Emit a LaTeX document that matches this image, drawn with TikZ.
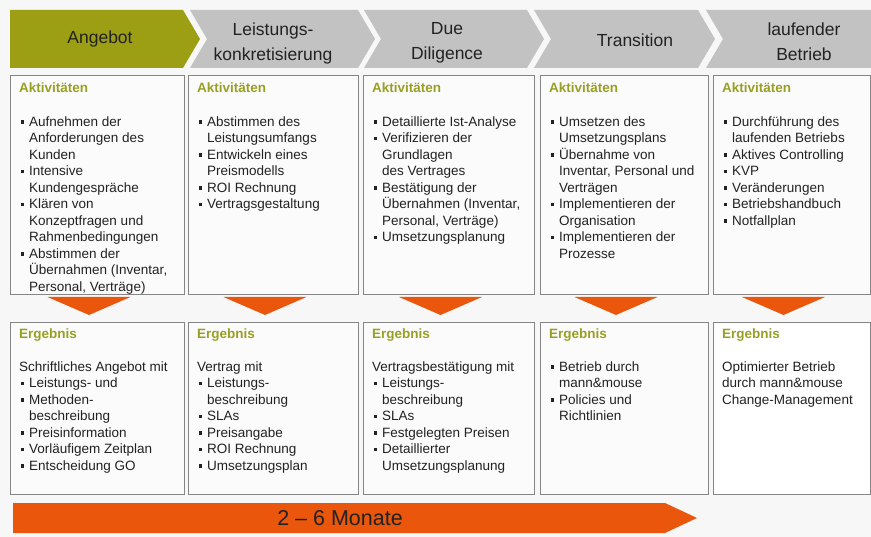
\documentclass[tikz,border=0pt]{standalone}
\usepackage{fontspec}
\setmainfont{Liberation Sans}
\usetikzlibrary{positioning}
\usetikzlibrary{calc}

\definecolor{mmbg}{HTML}{F7F7F7}
\definecolor{mmbox}{HTML}{FBFBFB}
\definecolor{mmframe}{HTML}{858585}
\definecolor{mmgray}{HTML}{C2C2C2}
\definecolor{mmgreen}{HTML}{9C9E14}
\definecolor{mmorange}{HTML}{E9560C}
\definecolor{mmhead}{HTML}{98A024}
\definecolor{mmtext}{HTML}{222222}

\newcommand{\bul}{\makebox[10pt][l]{\hspace{1.5pt}\rule[2.8pt]{3.2pt}{3.2pt}}}
\newcommand{\ind}{\hspace*{10pt}}

\begin{document}
\begin{tikzpicture}
  [
    x=1pt,y=-1pt,
    phase/.style={
      fill=mmgray
    },
    box/.style={
      draw=mmframe,
      fill=mmbox,
      line width=0.8pt
    },
    marker/.style={
      fill=mmorange
    },
    title/.style={
      font=\fontsize{17.5}{25}\selectfont,
      align=center,
      text=mmtext
    },
    head/.style={
      font=\bfseries\fontsize{13.5}{16}\selectfont,
      text=mmhead,
      anchor=base west,
      inner sep=0pt
    },
    body/.style={
      font=\fontsize{13.5}{16.5}\selectfont,
      align=left,
      anchor=north west,
      inner sep=0pt,
      text=mmtext
    }
  ]
    \fill [mmbg] (0,0) rectangle (871,537);
    \useasboundingbox (0,0) rectangle (871,537);
    % phases
    \fill [phase,fill=mmgreen] (10,10) -- (183,10) -- (200,39) -- (183,68) -- (10,68) -- cycle;
    \foreach \l/\r in {190/358,364/527,534/698} {
      \fill [phase] (\l,10) -- (\r,10) -- (\r+17,39) -- (\r,68) -- (\l,68) -- (\l+17,39) -- cycle;
    }
    \fill [phase] (706,10) -- (871,10) -- (871,68) -- (706,68) -- (723,39) -- cycle;
    \node [title] (angebot) at (100,39) {Angebot};
    \node [title] (leistung) at (273,43) {Leistungs-\\konkretisierung};
    \node [title] (due) at (447,43) {Due\\Diligence};
    \node [title] (transition) at (635,40) {Transition};
    \node [title] (betrieb) at (804,42) {laufender\\Betrieb};
    % boxes
    \foreach \l/\r/\n in {10/184/1,188/358/2,363/534/3,540/708/4,713/870/5} {
      \draw [box] (\l,75) rectangle (\r,294);
      \draw [box] (\l,322) rectangle (\r,494);
      \fill [marker] ({(\l+\r)/2-49.5},297) -- ++(83,0) -- ++(-41.5,18) -- cycle;
      \node [head] (akt\n) at (\l+9,92.7) {Aktivitäten};
      \node [head] (erg\n) at (\l+9,338.3) {Ergebnis};
    }
    \draw [box,fill=white] (713,322) rectangle (870,494);
    \node [head] (erg5) at (722,338.3) {Ergebnis};
    % Aktivitaeten
    \node [body] (akttext1) at (19,116.5) {\bul Aufnehmen der\\\ind Anforderungen des\\\ind Kunden\\\bul Intensive\\\ind Kundengespräche\\\bul Klären von\\\ind Konzeptfragen und\\\ind Rahmenbedingungen\\\bul Abstimmen der\\\ind Übernahmen (Inventar,\\\ind Personal, Verträge)};
    \node [body] (akttext2) at (197,116.5) {\bul Abstimmen des\\\ind Leistungsumfangs\\\bul Entwickeln eines\\\ind Preismodells\\\bul ROI Rechnung\\\bul Vertragsgestaltung};
    \node [body] (akttext3) at (372,116.5) {\bul Detaillierte Ist-Analyse\\\bul Verifizieren der\\\ind Grundlagen\\\ind des Vertrages\\\bul Bestätigung der\\\ind Übernahmen (Inventar,\\\ind Personal, Verträge)\\\bul Umsetzungsplanung};
    \node [body] (akttext4) at (549,116.5) {\bul Umsetzen des\\\ind Umsetzungsplans\\\bul Übernahme von\\\ind Inventar, Personal und\\\ind Verträgen\\\bul Implementieren der\\\ind Organisation\\\bul Implementieren der\\\ind Prozesse};
    \node [body] (akttext5) at (722,116.5) {\bul Durchführung des\\\ind laufenden Betriebs\\\bul Aktives Controlling\\\bul KVP\\\bul Veränderungen\\\bul Betriebshandbuch\\\bul Notfallplan};
    % Ergebnisse
    \node [body] (ergtext1) at (19,361.5) {Schriftliches Angebot mit\\\bul Leistungs- und\\\bul Methoden-\\\ind beschreibung\\\bul Preisinformation\\\bul Vorläufigem Zeitplan\\\bul Entscheidung GO};
    \node [body] (ergtext2) at (197,361.5) {Vertrag mit\\\bul Leistungs-\\\ind beschreibung\\\bul SLAs\\\bul Preisangabe\\\bul ROI Rechnung\\\bul Umsetzungsplan};
    \node [body] (ergtext3) at (372,361.5) {Vertragsbestätigung mit\\\bul Leistungs-\\\ind beschreibung\\\bul SLAs\\\bul Festgelegten Preisen\\\bul Detaillierter\\\ind Umsetzungsplanung};
    \node [body] (ergtext4) at (549,361.5) {\bul Betrieb durch\\\ind mann\&mouse\\\bul Policies und\\\ind Richtlinien};
    \node [body] (ergtext5) at (722,361.5) {Optimierter Betrieb\\durch mann\&mouse\\Change-Management};
    % Dauer
    \fill [marker] (13,503) -- (665,503) -- (697,518) -- (665,533) -- (13,533) -- cycle;
    \node [font=\fontsize{21.5}{24}\selectfont,text=mmtext] (dauer) at (340,518) {2 – 6 Monate};
  \end{tikzpicture}
\end{document}
